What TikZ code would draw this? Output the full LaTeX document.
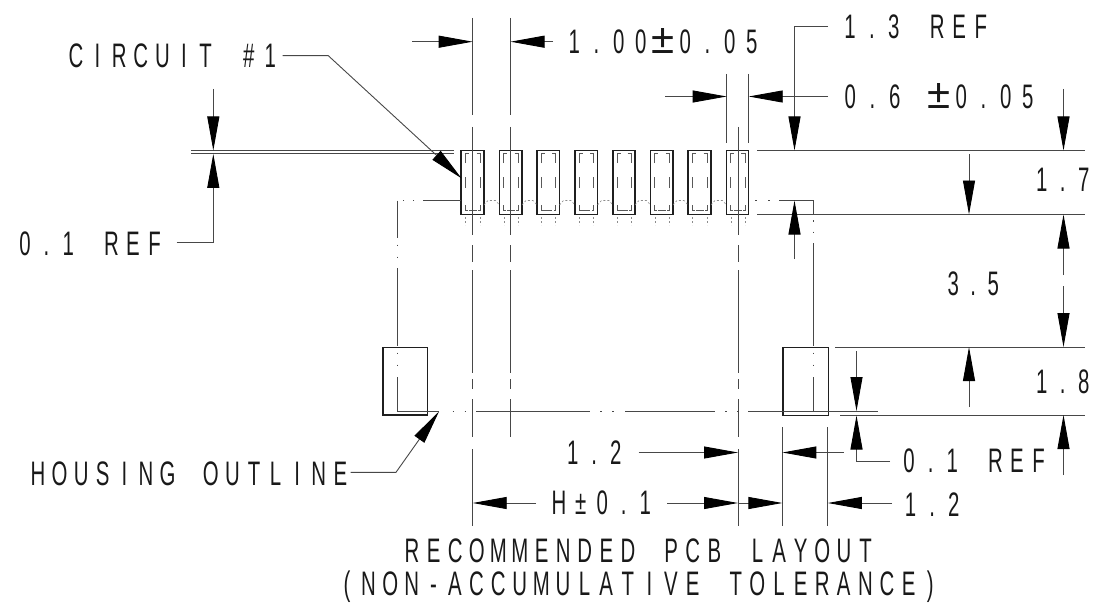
\documentclass[tikz,border=0pt]{standalone}
\usepackage{fontspec}
\usetikzlibrary{arrows.meta}
\newfontfamily\cad[FakeStretch=0.6]{Liberation Sans}
\newfontfamily\cadwide{Liberation Sans}
\newlength{\cadw}
\setlength{\cadw}{21.6pt}
\def\cadloop#1{\ifx#1\relax\else\makebox[\cadw][c]{#1}\expandafter\cadloop\fi}
\newcommand{\cadtext}[2][21.6pt]{\setlength{\cadw}{#1}\cadloop#2\relax}
\newcommand{\widepm}{{\cadwide\fontsize{42}{42}\selectfont ±}}
\tikzset{
  x=1pt,y=-1pt,
  thinl/.style={line width=0.9pt,black!72},
  dimline/.style={thinl,-{Triangle[length=34pt,width=12pt,black]}},
  outline/.style={line width=1.2pt,black!88},
  lab/.style={anchor=base west,inner sep=0pt,font=\cad\fontsize{34}{36}\selectfont,text=black!90},
  centerl/.style={thinl,dash pattern=on 97pt off 12pt on 108pt off 10pt on 17pt off 8pt on 103pt off 6pt on 10pt off 10pt on 38pt off 12pt on 77pt off 100pt},
  hidden/.style={line width=0.7pt,black!65},
  dotl/.style={line width=0.6pt,black!45,dash pattern=on 2pt off 2pt}
}
\begin{document}
\begin{tikzpicture}
\useasboundingbox (0,0) rectangle (1097,607);
% pads
\foreach \n/\l/\r in {1/461/484,2/499.5/522,3/537/559.5,4/575/597.5,5/613/635,6/650.5/673,7/688/711,8/726.5/748.7}{
  \draw[hidden] (\l+4.3,163) -- (\l+4.3,153) -- (\l+7.5,153) (\r-7.5,153) -- (\r-3.8,153) -- (\r-3.8,163)
    (\l+4.3,177) -- (\l+4.3,188) (\r-3.8,177) -- (\r-3.8,188)
    (\l+4.3,205) -- (\l+4.3,210.5) -- (\l+6.5,210.5) (\r-3.8,205) -- (\r-3.8,210.5) -- (\r-6,210.5)
    ({(\l+\r)/2-4},210.5) -- ({(\l+\r)/2+4},210.5);
  \draw[dotl] (\l+4.3,217) -- (\l+4.3,225) (\r-3.8,217) -- (\r-3.8,225);
  \draw[outline] (\l,150.3) coordinate (p\n tl) rectangle (\r,214.3) coordinate (p\n br);
}
\foreach \a/\b in {484/499.5,522/537,559.5/575,597.5/613,635/650.5,673/688,711/726.5}{
  \draw[dotl] (\a,205) -- (\a+4,200.5) -- (\b-4,200.5) -- (\b,205);
}
\coordinate (padw) at (461.5,178.3);
% tabs
\node[draw,outline,minimum width=44.7pt,minimum height=67.6pt,inner sep=0pt,anchor=north west] (tabl) at (382.3,346.8) {};
\node[draw,outline,minimum width=45.4pt,minimum height=67.8pt,inner sep=0pt,anchor=north west] (tabr) at (782.4,346.8) {};
% housing outline
\draw[thinl] (461,200.5) -- (423,200.5) (414,200.5) -- (412.5,200.5) (404,200.5) -- (402.5,200.5)
  (397.7,200.5) -- (397.7,238) (397.7,244.5) -- (397.7,246) (397.7,256.5) -- (397.7,258)
  (397.7,268) -- (397.7,346) (397.7,352.5) -- (397.7,354) (397.7,364.5) -- (397.7,366)
  (397.7,377) -- (397.7,411.5) -- (439,411.5) (452.5,411.5) -- (454,411.5) (464.5,411.5) -- (466,411.5)
  (476,411.5) -- (590,411.5) (600,411.5) -- (601.5,411.5) (612,411.5) -- (613.5,411.5)
  (625,411.5) -- (715,411.5) (725,411.5) -- (726.5,411.5) (737,411.5) -- (738.5,411.5)
  (748,411.5) -- (878,411.5);
\draw[thinl] (755,200.5) -- (756.5,200.5) (768,200.5) -- (769.5,200.5)
  (779,200.5) -- (813.5,200.5) -- (813.5,215) (813.5,220) -- (813.5,221.5) (813.5,231.5) -- (813.5,233)
  (813.5,243) -- (813.5,346) (813.5,352.5) -- (813.5,354) (813.5,364.5) -- (813.5,366)
  (813.5,377) -- (813.5,411.5);
% centre and extension lines
\draw[centerl] (472.7,18) -- (472.7,526);
\draw[centerl] (510.5,18) -- (510.5,437);
\draw[centerl,dash phase=109pt] (738,127) -- (738,526);
\draw[thinl] (726.7,74) -- (726.7,143) (748.7,74) -- (748.7,143);
\draw[thinl] (782.4,427) -- (782.4,526) (827.8,427) -- (827.8,526);
% right ext lines
\draw[thinl] (757,150.5) -- (1085,150.5) (757,214.5) -- (1085,214.5)
  (835,347) -- (1085,347) (840,415) -- (1085,415);
% left ext lines
\draw[thinl] (191,150.5) -- (454,150.5) (191,153.9) -- (454,153.9);
% dimension arrows
\draw[dimline] (412,41.7) -- (472.7,41.7);
\draw[dimline] (553,41.7) -- (510.5,41.7);
\draw[dimline] (665,96.5) -- (726.7,96.5);
\draw[dimline] (828,96.5) -- (748.7,96.5);
\draw[dimline] (828,26.2) -- (794.5,26.2) -- (794.5,150.5);
\draw[dimline] (794.5,259) -- (794.5,200.5);
\draw[dimline] (969,154) -- (969,214.5);
\draw[dimline] (1063.5,275) -- (1063.5,214.5);
\draw[dimline] (1063.5,286) -- (1063.5,347);
\draw[dimline] (969,407) -- (969,347);
\draw[dimline] (1063.5,89) -- (1063.5,150.5);
\draw[dimline] (1063.5,475) -- (1063.5,415);
\draw[dimline] (213.3,89) -- (213.3,150.5);
\draw[dimline] (176.7,242.3) -- (213.3,242.3) -- (213.3,153.9);
\draw[dimline] (856.5,351) -- (856.5,411);
\draw[dimline] (890,461) -- (856.5,461) -- (856.5,415.5);
\draw[dimline] (638.5,452.5) -- (738,452.5);
\draw[dimline] (843.5,452.5) -- (782.4,452.5);
\draw[dimline] (536,503) -- (472.7,503);
\draw[dimline] (667,503) -- (738,503);
\draw[dimline] (738,503) -- (782.4,503);
\draw[dimline] (892,503) -- (827.8,503);
% leaders
\draw[dimline] (282.7,55.7) -- (328.3,55.7) -- (padw);
\draw[dimline] (350.7,472.3) -- (396,472.3) -- (439,411.5);
% labels
\node[lab] (t1) at (65,68) {\cadtext{CIRCUIT~{\#}1}};
\node[lab] (t2) at (563,53.3) {\cadtext[22.2pt]{1.00{\widepm}0.05}};
\node[lab] (t3) at (839,38.3) {\cadtext[21.8pt]{1.3~REF}};
\node[lab] (t4) at (839,108.3) {\cadtext[22.2pt]{0.6~{\widepm}0.05}};
\node[lab] (t5) at (1031,191.7) {\cadtext[21pt]{1.7}};
\node[lab] (t6) at (943,295) {\cadtext[20pt]{3.5}};
\node[lab] (t7) at (1031,393.3) {\cadtext[21pt]{1.8}};
\node[lab] (t8) at (14,255) {\cadtext{0.1~REF}};
\node[lab] (t9) at (898,472.7) {\cadtext{0.1~REF}};
\node[lab] (t10) at (561.7,464) {\cadtext{1.2}};
\node[lab] (t11) at (899.5,516) {\cadtext{1.2}};
\node[lab] (t12) at (548,514.5) {\cadtext{H±0.1}};
\node[lab] (t13) at (27,485) {\cadtext{HOUSING~OUTLINE}};
\node[lab] (t14) at (401,562) {\cadtext{RECOMMENDED~PCB~LAYOUT}};
\node[lab] (t15) at (336,595.7) {\cadtext{(NON-ACCUMULATIVE~TOLERANCE)}};
\end{tikzpicture}
\end{document}
